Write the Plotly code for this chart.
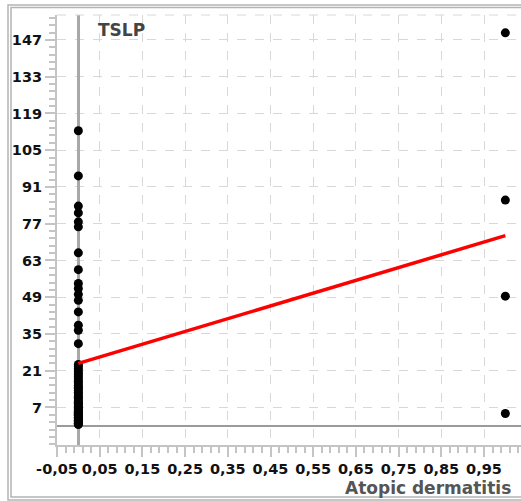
import numpy as np
import plotly.graph_objects as go

# ---- data ----
title_text = "TSLP"
x_title = "Atopic dermatitis"
# TSLP values for subjects without atopic dermatitis (group 0)
group0_values = [112.4, 95.2, 83.7, 81.1, 77.7, 75.8, 65.9, 59.5, 54.2, 52.3,
                 50.1, 47.8, 43.4, 38.3, 36.4, 31.3,
                 23.4, 22.6, 21.8, 20.9, 20.1, 19.4, 18.6, 17.8, 17.0, 16.3,
                 15.5, 14.7, 14.2, 13.5, 12.8, 12.1, 11.5, 10.9, 10.2, 9.6,
                 9.0, 8.5, 8.0, 7.4, 7.0, 6.5, 6.0, 5.6, 5.2, 4.8,
                 4.4, 4.0, 3.7, 3.3, 3.0, 2.6, 2.3, 2.0, 1.8, 1.5,
                 1.2, 1.0, 0.8, 0.5]
# TSLP values for subjects with atopic dermatitis (group 1)
group1_values = [149.7, 86.0, 49.4, 4.7]
group_codes = [0, 1]

y_tick_vals = [7, 21, 35, 49, 63, 77, 91, 105, 119, 133, 147]
x_tick_vals = [-0.05, 0.05, 0.15, 0.25, 0.35, 0.45, 0.55, 0.65, 0.75, 0.85, 0.95]
x_tick_text = [f"{v:.2f}".replace(".", ",") for v in x_tick_vals]

x = [group_codes[0]] * len(group0_values) + [group_codes[1]] * len(group1_values)
y = group0_values + group1_values

slope, intercept = np.polyfit(x, y, 1)
fit_x = np.array([min(x), max(x)], dtype=float)
fit_y = intercept + slope * fit_x

# ---- layout geometry ----
W, H = 521, 501
ML, MR, MT, MB = 57, 0, 15, 56
PW, PH = W - ML - MR, H - MT - MB

def px_x(p):
    return (p - ML) / PW

def px_y(p):
    return (H - MB - p) / PH

FONT = "DejaVu Sans, Arial, sans-serif"
AXC = "#c4c4c4"

fig = go.Figure()
fig.add_trace(go.Scatter(
    x=x, y=y, mode="markers",
    marker=dict(color="black", size=9, line=dict(width=0)),
    showlegend=False, hoverinfo="skip"))
fig.add_trace(go.Scatter(
    x=fit_x, y=fit_y, mode="lines",
    line=dict(color="#ff0000", width=3.5),
    showlegend=False, hoverinfo="skip"))

fig.update_layout(
    width=W, height=H,
    margin=dict(l=ML, r=MR, t=MT, b=MB, pad=0),
    paper_bgcolor="white", plot_bgcolor="white",
    separators=",.",
    showlegend=False,
    font=dict(family=FONT, color="black"),
)

fig.update_xaxes(
    range=[-0.05, -0.05 + PW / 427.0],
    tickmode="array", tickvals=x_tick_vals, ticktext=x_tick_text,
    tickfont=dict(family=FONT, size=14.5, color="#111", weight="bold"),
    showgrid=True, gridcolor="#d8d8d8", griddash="dash", gridwidth=1,
    zeroline=True, zerolinecolor="#a8a8a8", zerolinewidth=2.5,
    showline=True, linecolor=AXC, linewidth=2,
    ticks="outside", ticklen=10, tickcolor=AXC, tickwidth=1.5,
    minor=dict(dtick=0.02, tick0=-0.05, ticks="outside", ticklen=6,
               tickcolor=AXC, tickwidth=1.5, showgrid=False),
)
fig.update_yaxes(
    range=[-7.3, 156.5],
    tickmode="array", tickvals=y_tick_vals,
    tickfont=dict(family=FONT, size=14.5, color="#111", weight="bold"),
    showgrid=True, gridcolor="#d8d8d8", griddash="dash", gridwidth=1,
    zeroline=True, zerolinecolor="#9a9a9a", zerolinewidth=2,
    showline=True, linecolor=AXC, linewidth=2,
    ticks="outside", ticklen=10, tickcolor=AXC, tickwidth=1.5,
    minor=dict(dtick=2.8, tick0=7, ticks="outside", ticklen=6,
               tickcolor=AXC, tickwidth=1.5, showgrid=False),
)

shapes = [
    # dashed top border of plot area
    dict(type="line", xref="paper", yref="paper", x0=0, x1=1, y0=1, y1=1,
         line=dict(color="#d8d8d8", width=1, dash="dash")),
    # double frame around the picture
    dict(type="rect", xref="paper", yref="paper",
         x0=px_x(8), x1=px_x(535), y0=px_y(500), y1=px_y(5),
         line=dict(color="#b4b4b4", width=1.5)),
    dict(type="rect", xref="paper", yref="paper",
         x0=px_x(11), x1=px_x(532), y0=px_y(497), y1=px_y(7.5),
         line=dict(color="#b4b4b4", width=1.5)),
]
fig.update_layout(shapes=shapes)

fig.add_annotation(
    text=title_text, xref="paper", yref="paper",
    x=px_x(96), y=px_y(30), xanchor="left", yanchor="middle",
    showarrow=False,
    font=dict(family=FONT, size=17, color="#444", weight="bold"))
fig.add_annotation(
    text=x_title, xref="paper", yref="paper",
    x=px_x(513), y=px_y(488), xanchor="right", yanchor="middle",
    showarrow=False,
    font=dict(family=FONT, size=17, color="#555", weight="bold"))

fig.write_html("out.html")
